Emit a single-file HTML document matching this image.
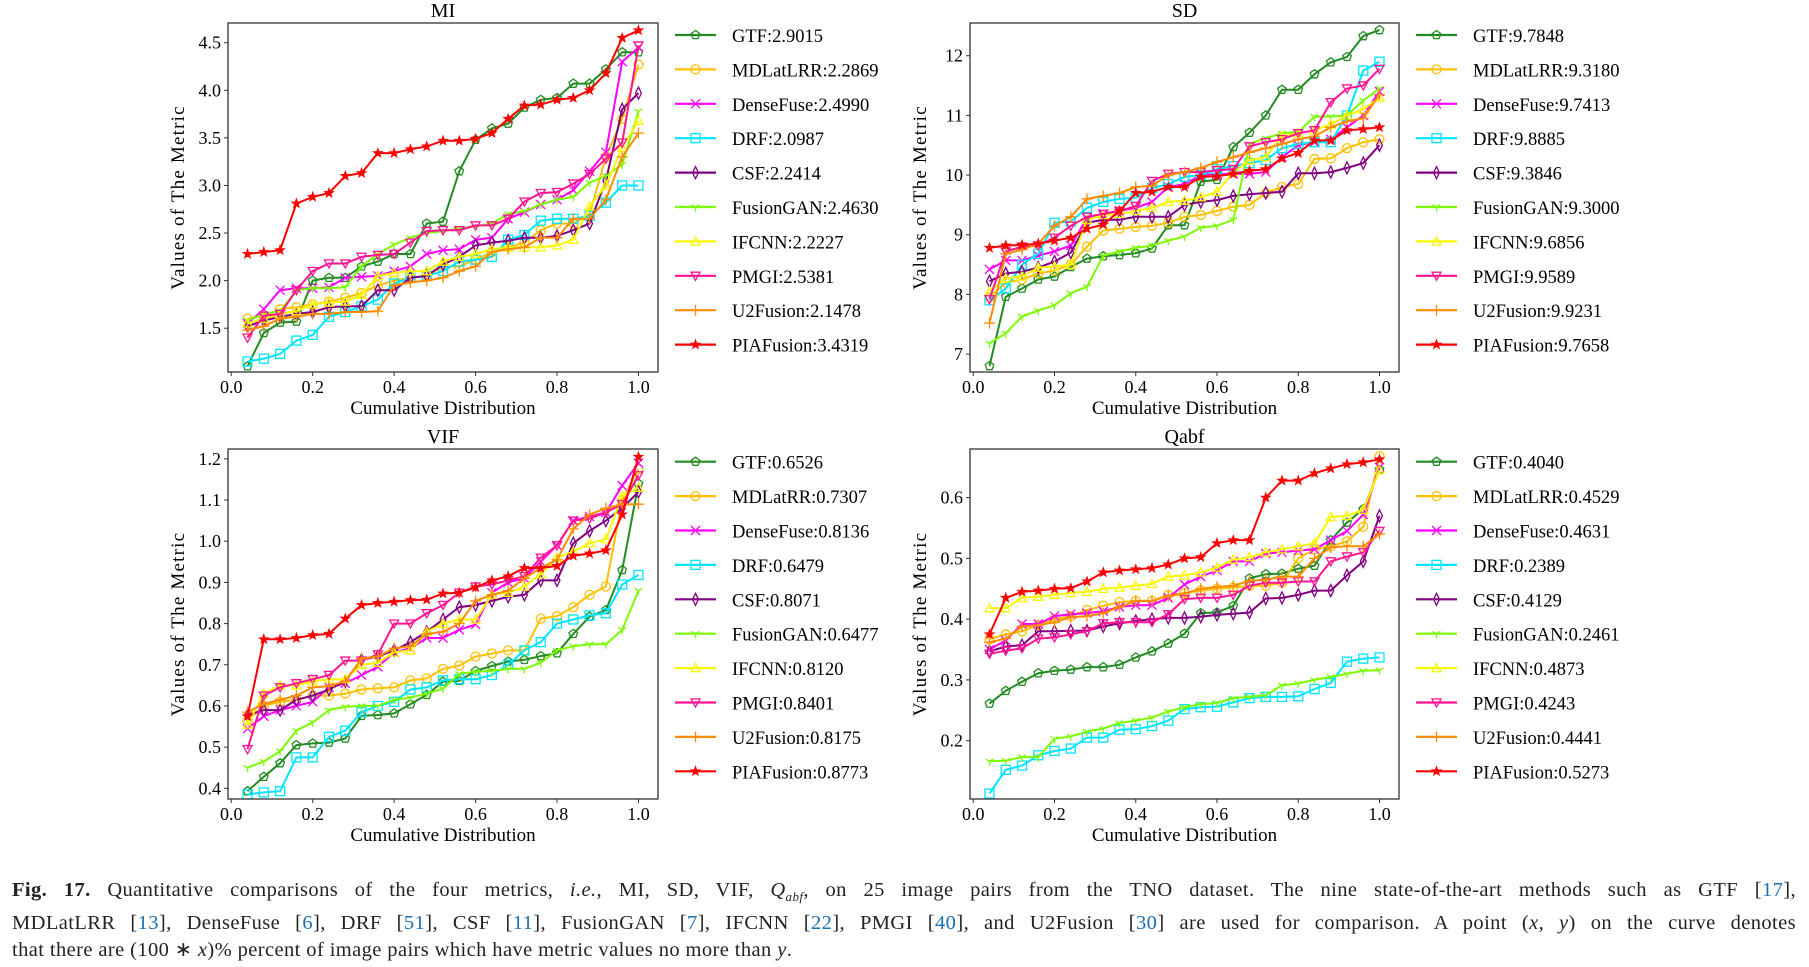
<!DOCTYPE html>
<html><head><meta charset="utf-8">
<style>
body{margin:0;background:#fff;width:1809px;height:967px;overflow:hidden;font-family:"Liberation Serif",serif;}
#cap{position:absolute;left:12px;top:877px;width:1784px;font-size:20.5px;line-height:27px;color:#222;letter-spacing:0.4px;}
#cap div{text-align:justify;text-align-last:justify;white-space:nowrap;}
#cap div.last{text-align-last:left;}
.ref{color:#1a6fb5;}
</style></head><body>
<svg id="fig" width="1809" height="870" style="position:absolute;left:0;top:0" font-family="Liberation Serif, serif"></svg>
<div id="cap">
<div><b>Fig. 17.</b> Quantitative comparisons of the four metrics, <i>i.e.</i>, MI, SD, VIF, <i>Q<sub style="font-size:13px">abf</sub></i>, on 25 image pairs from the TNO dataset. The nine state-of-the-art methods such as GTF [<span class="ref">17</span>],</div>
<div>MDLatLRR [<span class="ref">13</span>], DenseFuse [<span class="ref">6</span>], DRF [<span class="ref">51</span>], CSF [<span class="ref">11</span>], FusionGAN [<span class="ref">7</span>], IFCNN [<span class="ref">22</span>], PMGI [<span class="ref">40</span>], and U2Fusion [<span class="ref">30</span>] are used for comparison. A point (<i>x</i>, <i>y</i>) on the curve denotes</div>
<div class="last">that there are (100 ∗ <i>x</i>)% percent of image pairs which have metric values no more than <i>y</i>.</div>
</div>
<script>
const xVals=[0.04,0.08,0.12,0.16,0.2,0.24,0.28,0.32,0.36,0.4,0.44,0.48,0.52,0.56,0.6,0.64,0.68,0.72,0.76,0.8,0.84,0.88,0.92,0.96,1.0];
const methods=["GTF","MDLatLRR","DenseFuse","DRF","CSF","FusionGAN","IFCNN","PMGI","U2Fusion","PIAFusion"];
const colors=["#228b22","#ffc000","#ff00ff","#00e5ff","#800080","#7cfc00","#f8f800","#ff1493","#ff8c00","#ff0000"];
const markers=["p","o","x","s","d","1","^","v","+","*"];
const xTicks=[0,0.2,0.4,0.6,0.8,1.0];

const miTitles=["GTF:2.9015","MDLatLRR:2.2869","DenseFuse:2.4990","DRF:2.0987","CSF:2.2414","FusionGAN:2.4630","IFCNN:2.2227","PMGI:2.5381","U2Fusion:2.1478","PIAFusion:3.4319"];
const miTicks=[1.5,2.0,2.5,3.0,3.5,4.0,4.5];
const miGTF=[1.10,1.45,1.56,1.57,2.0,2.03,2.03,2.15,2.2,2.28,2.28,2.6,2.62,3.15,3.48,3.6,3.65,3.82,3.9,3.92,4.07,4.07,4.22,4.4,4.4];
const miMDLatLRR=[1.6,1.63,1.7,1.72,1.75,1.78,1.82,1.87,1.95,2.0,2.03,2.05,2.15,2.15,2.22,2.3,2.35,2.4,2.53,2.6,2.6,2.7,3.3,3.7,4.27];
const miDenseFuse=[1.55,1.7,1.9,1.92,1.92,1.93,2.03,2.04,2.05,2.1,2.15,2.28,2.32,2.33,2.43,2.45,2.65,2.72,2.8,2.85,2.95,3.15,3.35,4.3,4.45];
const miDRF=[1.15,1.18,1.23,1.37,1.43,1.62,1.67,1.73,1.8,1.97,2.03,2.05,2.1,2.2,2.22,2.25,2.43,2.48,2.63,2.65,2.65,2.68,2.82,3.0,3.0];
const miCSF=[1.52,1.58,1.62,1.65,1.67,1.72,1.73,1.73,1.9,1.9,2.03,2.05,2.17,2.25,2.37,2.4,2.42,2.45,2.45,2.47,2.53,2.6,3.05,3.8,3.97];
const miFusionGAN=[1.58,1.65,1.68,1.9,1.92,1.92,1.93,2.15,2.28,2.38,2.45,2.5,2.52,2.55,2.57,2.6,2.7,2.73,2.8,2.85,2.88,3.03,3.1,3.22,3.78];
const miIFCNN=[1.55,1.6,1.65,1.68,1.75,1.77,1.78,1.85,2.05,2.08,2.1,2.1,2.2,2.25,2.28,2.33,2.35,2.35,2.35,2.37,2.43,2.78,3.0,3.4,3.68];
const miPMGI=[1.4,1.63,1.65,1.9,2.1,2.18,2.18,2.25,2.27,2.28,2.4,2.52,2.53,2.53,2.58,2.58,2.65,2.83,2.92,2.93,3.02,3.12,3.28,3.45,4.47];
const miU2Fusion=[1.48,1.52,1.6,1.62,1.65,1.65,1.67,1.67,1.68,1.95,1.98,2.0,2.03,2.1,2.15,2.3,2.33,2.35,2.45,2.45,2.65,2.65,2.85,3.3,3.55];
const miPIAFusion=[2.28,2.3,2.32,2.81,2.88,2.92,3.1,3.13,3.34,3.34,3.38,3.41,3.47,3.47,3.49,3.55,3.7,3.84,3.85,3.9,3.92,4.0,4.18,4.55,4.63];

const sdTitles=["GTF:9.7848","MDLatLRR:9.3180","DenseFuse:9.7413","DRF:9.8885","CSF:9.3846","FusionGAN:9.3000","IFCNN:9.6856","PMGI:9.9589","U2Fusion:9.9231","PIAFusion:9.7658"];
const sdTicks=[7,8,9,10,11,12];
const sdGTF=[6.8,7.96,8.1,8.25,8.3,8.46,8.6,8.64,8.66,8.69,8.77,9.16,9.16,9.89,9.92,10.47,10.71,11.0,11.43,11.43,11.69,11.89,11.98,12.33,12.43];
const sdMDLatLRR=[7.95,8.2,8.25,8.35,8.4,8.5,8.8,9.07,9.1,9.13,9.15,9.2,9.3,9.33,9.4,9.47,9.5,9.7,9.8,9.85,10.27,10.28,10.45,10.55,10.6];
const sdDenseFuse=[8.42,8.57,8.57,8.65,8.72,8.82,9.28,9.35,9.4,9.45,9.55,9.8,9.85,10.0,10.02,10.02,10.02,10.05,10.3,10.5,10.55,10.6,10.8,11.0,11.4];
const sdDRF=[7.9,8.1,8.5,8.68,9.2,9.22,9.45,9.55,9.6,9.62,9.78,9.85,9.97,10.0,10.1,10.15,10.2,10.25,10.45,10.52,10.55,10.55,11.0,11.75,11.9];
const sdCSF=[8.22,8.35,8.38,8.45,8.55,8.7,9.2,9.25,9.25,9.3,9.3,9.3,9.5,9.55,9.58,9.65,9.68,9.7,9.72,10.03,10.03,10.05,10.12,10.2,10.5];
const sdFusionGAN=[7.18,7.35,7.63,7.73,7.82,8.02,8.13,8.65,8.72,8.78,8.82,8.9,8.97,9.12,9.15,9.25,10.52,10.62,10.7,10.72,10.98,10.98,11.0,11.25,11.45];
const sdIFCNN=[8.05,8.27,8.3,8.45,8.47,8.5,9.25,9.33,9.35,9.4,9.45,9.55,9.57,9.63,9.72,10.05,10.25,10.3,10.65,10.7,10.75,10.85,11.0,11.1,11.3];
const sdPMGI=[7.92,8.72,8.8,8.82,8.95,9.15,9.3,9.35,9.4,9.48,9.9,10.02,10.05,10.05,10.08,10.1,10.48,10.55,10.6,10.7,10.75,11.22,11.45,11.5,11.78];
const sdU2Fusion=[7.52,8.68,8.75,8.85,9.15,9.3,9.6,9.65,9.7,9.8,9.82,10.0,10.05,10.12,10.22,10.3,10.38,10.45,10.52,10.6,10.65,10.8,10.9,10.95,11.35];
const sdPIAFusion=[8.78,8.82,8.83,8.85,8.9,8.95,9.1,9.17,9.4,9.7,9.72,9.8,9.8,9.97,9.98,10.02,10.07,10.1,10.28,10.37,10.58,10.58,10.75,10.77,10.8];

const vifTitles=["GTF:0.6526","MDLatRR:0.7307","DenseFuse:0.8136","DRF:0.6479","CSF:0.8071","FusionGAN:0.6477","IFCNN:0.8120","PMGI:0.8401","U2Fusion:0.8175","PIAFusion:0.8773"];
const vifTicks=[0.4,0.5,0.6,0.7,0.8,0.9,1.0,1.1,1.2];
const vifGTF=[0.393,0.428,0.461,0.505,0.509,0.511,0.521,0.576,0.578,0.582,0.604,0.627,0.659,0.661,0.685,0.697,0.708,0.712,0.721,0.728,0.775,0.817,0.833,0.93,1.14];
const vifMDLatLRR=[0.565,0.6,0.61,0.615,0.625,0.625,0.63,0.64,0.643,0.645,0.662,0.667,0.69,0.698,0.72,0.727,0.735,0.735,0.812,0.818,0.84,0.87,0.89,1.1,1.175];
const vifDenseFuse=[0.545,0.575,0.59,0.6,0.61,0.645,0.655,0.675,0.695,0.73,0.74,0.765,0.765,0.785,0.798,0.875,0.9,0.91,0.95,0.99,1.05,1.06,1.07,1.135,1.19];
const vifDRF=[0.385,0.39,0.393,0.475,0.475,0.525,0.54,0.585,0.6,0.61,0.64,0.645,0.662,0.665,0.665,0.675,0.7,0.735,0.755,0.8,0.81,0.82,0.825,0.895,0.918];
const vifCSF=[0.578,0.59,0.59,0.615,0.625,0.64,0.66,0.712,0.72,0.735,0.755,0.78,0.81,0.84,0.845,0.855,0.865,0.87,0.905,0.905,0.995,1.025,1.05,1.08,1.12];
const vifFusionGAN=[0.45,0.465,0.49,0.54,0.56,0.59,0.598,0.6,0.6,0.615,0.62,0.63,0.642,0.678,0.683,0.685,0.69,0.69,0.705,0.735,0.745,0.75,0.75,0.785,0.88];
const vifIFCNN=[0.555,0.63,0.65,0.65,0.66,0.665,0.665,0.7,0.705,0.73,0.735,0.78,0.8,0.81,0.81,0.87,0.875,0.89,0.92,0.96,0.975,0.995,1.005,1.11,1.13];
const vifPMGI=[0.495,0.625,0.645,0.655,0.665,0.675,0.71,0.71,0.725,0.8,0.8,0.825,0.845,0.875,0.89,0.895,0.905,0.915,0.96,0.99,1.05,1.055,1.07,1.09,1.16];
const vifU2Fusion=[0.585,0.605,0.615,0.625,0.645,0.648,0.66,0.715,0.72,0.74,0.745,0.775,0.78,0.8,0.855,0.87,0.88,0.91,0.935,0.955,1.03,1.065,1.08,1.09,1.09];
const vifPIAFusion=[0.575,0.762,0.762,0.765,0.772,0.775,0.812,0.845,0.85,0.853,0.857,0.858,0.873,0.875,0.888,0.905,0.915,0.935,0.935,0.94,0.965,0.97,0.978,1.065,1.205];

const qTitles=["GTF:0.4040","MDLatLRR:0.4529","DenseFuse:0.4631","DRF:0.2389","CSF:0.4129","FusionGAN:0.2461","IFCNN:0.4873","PMGI:0.4243","U2Fusion:0.4441","PIAFusion:0.5273"];
const qTicks=[0.2,0.3,0.4,0.5,0.6];
const qGTF=[0.261,0.282,0.297,0.311,0.315,0.317,0.321,0.321,0.325,0.337,0.347,0.36,0.376,0.41,0.411,0.422,0.467,0.474,0.475,0.483,0.488,0.53,0.559,0.581,0.646];
const qMDLatLRR=[0.367,0.375,0.38,0.39,0.4,0.405,0.415,0.422,0.428,0.43,0.43,0.44,0.443,0.447,0.45,0.452,0.455,0.455,0.46,0.5,0.515,0.52,0.528,0.552,0.668];
const qDenseFuse=[0.35,0.365,0.392,0.392,0.405,0.408,0.41,0.413,0.42,0.423,0.423,0.435,0.457,0.47,0.48,0.495,0.495,0.508,0.51,0.513,0.515,0.53,0.545,0.572,0.65];
const qDRF=[0.113,0.152,0.159,0.176,0.183,0.187,0.205,0.205,0.218,0.219,0.224,0.233,0.252,0.255,0.256,0.263,0.27,0.272,0.272,0.273,0.285,0.295,0.33,0.335,0.337];
const qCSF=[0.347,0.355,0.357,0.38,0.38,0.381,0.381,0.388,0.393,0.397,0.4,0.402,0.402,0.404,0.407,0.409,0.411,0.434,0.435,0.44,0.447,0.447,0.472,0.495,0.57];
const qFusionGAN=[0.166,0.167,0.173,0.173,0.203,0.207,0.215,0.22,0.229,0.233,0.238,0.248,0.255,0.26,0.262,0.27,0.272,0.275,0.291,0.294,0.3,0.305,0.31,0.315,0.316];
const qIFCNN=[0.418,0.418,0.435,0.437,0.44,0.443,0.445,0.45,0.452,0.455,0.458,0.47,0.472,0.477,0.485,0.498,0.502,0.51,0.515,0.52,0.525,0.568,0.57,0.58,0.645];
const qPMGI=[0.343,0.348,0.352,0.368,0.37,0.375,0.38,0.393,0.395,0.395,0.395,0.408,0.433,0.435,0.435,0.44,0.455,0.46,0.46,0.462,0.462,0.495,0.503,0.51,0.545];
const qU2Fusion=[0.362,0.368,0.388,0.39,0.395,0.403,0.405,0.41,0.42,0.43,0.43,0.438,0.442,0.45,0.453,0.455,0.463,0.465,0.47,0.47,0.5,0.518,0.52,0.52,0.54];
const qPIAFusion=[0.375,0.435,0.445,0.447,0.45,0.451,0.462,0.477,0.48,0.482,0.484,0.49,0.5,0.502,0.525,0.53,0.53,0.6,0.628,0.628,0.64,0.648,0.655,0.658,0.663];

const NS="http://www.w3.org/2000/svg";
const svg=document.getElementById('fig');
function mk(tag,attrs,parent){const e=document.createElementNS(NS,tag);for(const k in attrs)e.setAttribute(k,attrs[k]);(parent||svg).appendChild(e);return e;}

function marker(g,type,cx,cy,col){
  const r=4.5;let e;
  const st={fill:'none',stroke:col,'stroke-width':1.3};
  if(type==='o'){e=mk('circle',Object.assign({cx:cx,cy:cy,r:r},st),g);}
  else if(type==='s'){e=mk('rect',Object.assign({x:cx-r,y:cy-r,width:2*r,height:2*r},st),g);}
  else if(type==='x'){e=mk('path',Object.assign({d:`M${cx-r} ${cy-r}L${cx+r} ${cy+r}M${cx-r} ${cy+r}L${cx+r} ${cy-r}`},st),g);}
  else if(type==='+'){e=mk('path',Object.assign({d:`M${cx-r-1} ${cy}L${cx+r+1} ${cy}M${cx} ${cy-r-1}L${cx} ${cy+r+1}`},st),g);}
  else if(type==='d'){e=mk('path',Object.assign({d:`M${cx} ${cy-r-1.5}L${cx+r*0.65} ${cy}L${cx} ${cy+r+1.5}L${cx-r*0.65} ${cy}Z`},st),g);}
  else if(type==='^'){e=mk('path',Object.assign({d:`M${cx} ${cy-r}L${cx+r} ${cy+r*0.8}L${cx-r} ${cy+r*0.8}Z`},st),g);}
  else if(type==='v'){e=mk('path',Object.assign({d:`M${cx} ${cy+r}L${cx+r} ${cy-r*0.8}L${cx-r} ${cy-r*0.8}Z`},st),g);}
  else if(type==='p'){let d='';for(let i=0;i<5;i++){const a=-Math.PI/2+i*2*Math.PI/5;d+=(i?'L':'M')+(cx+r*Math.cos(a)).toFixed(1)+' '+(cy+r*Math.sin(a)).toFixed(1);}e=mk('path',Object.assign({d:d+'Z'},st),g);}
  else if(type==='1'){e=mk('path',Object.assign({d:`M${cx} ${cy}L${cx} ${cy+r}M${cx} ${cy}L${cx-r*0.87} ${cy-r/2}M${cx} ${cy}L${cx+r*0.87} ${cy-r/2}`},st),g);}
  else if(type==='*'){let d='';for(let i=0;i<10;i++){const a=-Math.PI/2+i*Math.PI/5;const rr=i%2?r*0.45:r*1.1;d+=(i?'L':'M')+(cx+rr*Math.cos(a)).toFixed(1)+' '+(cy+rr*Math.sin(a)).toFixed(1);}e=mk('path',{d:d+'Z',fill:col,stroke:col,'stroke-width':0.8},g);}
  
  
  return e;
}

function panel(o){
  const g=mk('g',{});
  
  
  const {L,T,W,H,ymin,ymax}=o;const xmin=-0.008,xmax=1.048;
  const X=v=>L+(v-xmin)/(xmax-xmin)*W;
  const Y=v=>T+H-(v-ymin)/(ymax-ymin)*H;
  const t=mk('text',{x:L+W/2,y:T-6,'text-anchor':'middle','font-size':20,fill:'#000'},g);t.textContent=o.title;
  
  o.series.forEach((s,i)=>{
    const sg=mk('g',{},g);
    
    
    const d=s.map((v,j)=>(j?'L':'M')+X(xVals[j]).toFixed(1)+' '+Y(v).toFixed(1)).join('');
    const p=mk('path',{d:d,fill:'none',stroke:colors[i],'stroke-width':2},sg);
    
    
    s.forEach((v,j)=>marker(sg,markers[i],X(xVals[j]),Y(v),colors[i]));
  });
  const box=mk('rect',{x:L,y:T,width:W,height:H,fill:'none',stroke:'#333','stroke-width':1.3},g);
  
  xTicks.forEach(v=>{
    mk('line',{x1:X(v),x2:X(v),y1:T+H,y2:T+H+4,stroke:'#333'},g);
    const tx=mk('text',{x:X(v),y:T+H+21,'text-anchor':'middle','font-size':18},g);tx.textContent=v.toFixed(1);
    
  });
  o.ticks.forEach(v=>{
    mk('line',{x1:L-4,x2:L,y1:Y(v),y2:Y(v),stroke:'#333'},g);
    const ty=mk('text',{x:L-7,y:Y(v)+6,'text-anchor':'end','font-size':18},g);ty.textContent=o.fmt(v);
    
  });
  const xl=mk('text',{x:L+W/2,y:T+H+42,'text-anchor':'middle','font-size':19},g);xl.textContent='Cumulative Distribution';
  
  const yx=L-44,yy=T+H/2;
  const yl=mk('text',{x:yx,y:yy,'text-anchor':'middle','font-size':19,'letter-spacing':'1.2',transform:`rotate(-90 ${yx} ${yy})`},g);yl.textContent='Values of  The Metric';
  
  o.labels.forEach((lab,i)=>{
    const lg=mk('g',{},g);
    
    
    const ly=o.legY+i*34.4;const lx=L+W+17;
    mk('line',{x1:lx,x2:lx+41,y1:ly,y2:ly,stroke:colors[i],'stroke-width':2.2},lg);
    marker(lg,markers[i],lx+20.5,ly,colors[i]);
    const tt=mk('text',{x:lx+57,y:ly+7,'font-size':18.5},lg);tt.textContent=lab;
  });
}
const f1=v=>v.toFixed(1),f0=v=>v.toFixed(0);
panel({name:'mi',title:'MI',L:228,T:23,W:430,H:349,ymin:1.04,ymax:4.707,ticks:miTicks,fmt:f1,legY:35,labels:miTitles,
  series:[miGTF,miMDLatLRR,miDenseFuse,miDRF,miCSF,miFusionGAN,miIFCNN,miPMGI,miU2Fusion,miPIAFusion]});
panel({name:'sd',title:'SD',L:970,T:23,W:429,H:349,ymin:6.70,ymax:12.548,ticks:sdTicks,fmt:f0,legY:35,labels:sdTitles,
  series:[sdGTF,sdMDLatLRR,sdDenseFuse,sdDRF,sdCSF,sdFusionGAN,sdIFCNN,sdPMGI,sdU2Fusion,sdPIAFusion]});
panel({name:'vif',title:'VIF',L:228,T:449,W:430,H:350,ymin:0.374,ymax:1.224,ticks:vifTicks,fmt:f1,legY:461.7,labels:vifTitles,
  series:[vifGTF,vifMDLatLRR,vifDenseFuse,vifDRF,vifCSF,vifFusionGAN,vifIFCNN,vifPMGI,vifU2Fusion,vifPIAFusion]});
panel({name:'qabf',title:'Qabf',L:970,T:449,W:429,H:350,ymin:0.104,ymax:0.680,ticks:qTicks,fmt:f1,legY:461.7,labels:qTitles,
  series:[qGTF,qMDLatLRR,qDenseFuse,qDRF,qCSF,qFusionGAN,qIFCNN,qPMGI,qU2Fusion,qPIAFusion]});
</script>
</body></html>
